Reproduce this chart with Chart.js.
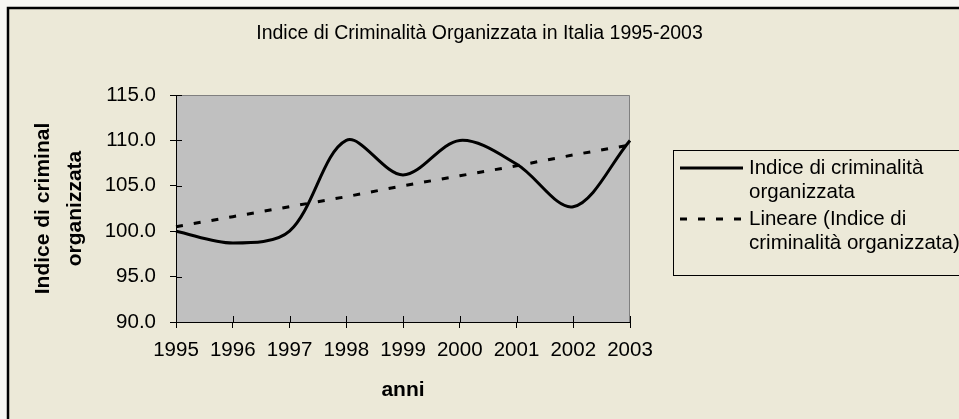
<!DOCTYPE html>
<html lang="it">
<head>
<meta charset="utf-8">
<title>Indice di Criminalità Organizzata in Italia 1995-2003</title>
<script src="https://cdn.jsdelivr.net/npm/chart.js@4.4.1/dist/chart.umd.min.js"></script>
<style>
  html, body { margin: 0; padding: 0; background: #f7f6f2; }
  #wrap { width: 959px; height: 419px; }
</style>
</head>
<body>
<div id="wrap"><canvas id="grafico" width="959" height="419"></canvas></div>
<script>
// Dati
const anni = ['1995', '1996', '1997', '1998', '1999', '2000', '2001', '2002', '2003'];
const indice = [100.0, 98.7, 100.0, 110.0, 106.2, 110.0, 107.4, 102.7, 110.0];
const tendenzaLineare = [100.5, 101.6, 102.7, 103.8, 105.0, 106.1, 107.2, 108.4, 109.5];
const tickY = [90, 95, 100, 105, 110, 115];

const titolo = 'Indice di Criminalità Organizzata in Italia 1995-2003';
const titoloAsseY = ['Indice di criminal', 'organizzata'];
const titoloAsseX = 'anni';
const etichetteLegenda = [
    ['Indice di criminalità', 'organizzata'],
    ['Lineare (Indice di', 'criminalità organizzata)']
];

const FONT = "'Liberation Sans', Arial, sans-serif";

// Sfondo stile Excel, area del grafico grigia, tacche incrociate e legenda
const stileExcel = {
    id: 'stileExcel',
    beforeDraw(chart) {
        const { ctx, chartArea: a } = chart;
        ctx.save();
        ctx.fillStyle = '#f7f6f2';
        ctx.fillRect(0, 0, chart.width, chart.height);
        ctx.fillStyle = '#ece9d8';
        ctx.fillRect(8, 8, chart.width, chart.height);
        ctx.fillStyle = '#c0c0c0';
        ctx.fillRect(a.left, a.top, a.right - a.left, a.bottom - a.top);
        ctx.strokeStyle = '#808080';
        ctx.lineWidth = 1;
        ctx.beginPath();
        ctx.moveTo(a.left, a.top + 0.5);
        ctx.lineTo(a.right - 0.5, a.top + 0.5);
        ctx.lineTo(a.right - 0.5, a.bottom);
        ctx.stroke();
        ctx.restore();
    },
    afterDraw(chart) {
        const { ctx, chartArea: a, scales: { x, y } } = chart;
        ctx.save();

        // parte interna delle tacche (incrociate sugli assi)
        ctx.strokeStyle = '#000';
        ctx.lineWidth = 1;
        ctx.beginPath();
        y.ticks.forEach((t, i) => {
            const py = Math.round(y.getPixelForTick(i)) + 0.5;
            ctx.moveTo(a.left, py);
            ctx.lineTo(a.left + 6, py);
        });
        x.ticks.forEach((t, i) => {
            const px = Math.round(x.getPixelForTick(i)) + 0.5;
            ctx.moveTo(px, a.bottom);
            ctx.lineTo(px, a.bottom - 6);
        });
        ctx.stroke();

        // legenda
        const lx = 673, ly = 150;
        ctx.fillStyle = '#ece9d8';
        ctx.fillRect(lx, ly, chart.width, 125);
        ctx.strokeStyle = '#000';
        ctx.lineWidth = 1;
        ctx.strokeRect(lx + 0.5, ly + 0.5, chart.width, 125);

        ctx.font = '20.5px ' + FONT;
        ctx.textBaseline = 'middle';
        ctx.textAlign = 'left';
        chart.data.datasets.forEach((ds, i) => {
            const yy = ly + 18 + i * 51;
            ctx.strokeStyle = ds.borderColor;
            ctx.lineWidth = ds.borderWidth;
            ctx.setLineDash(ds.borderDash || []);
            ctx.beginPath();
            ctx.moveTo(680, yy);
            ctx.lineTo(743, yy);
            ctx.stroke();
            ctx.setLineDash([]);
            ctx.fillStyle = '#000';
            etichetteLegenda[i].forEach((riga, k) => {
                ctx.fillText(riga, 749, yy + k * 24.5);
            });
        });

        // bordo esterno
        ctx.strokeStyle = '#000';
        ctx.lineWidth = 2.5;
        ctx.strokeRect(8, 8, chart.width + 20, chart.height + 20);
        ctx.restore();
    }
};

new Chart(document.getElementById('grafico'), {
    type: 'line',
    data: {
        labels: anni,
        datasets: [
            {
                label: etichetteLegenda[0].join(' '),
                data: indice,
                borderColor: '#000',
                borderWidth: 3,
                tension: 0.33,
                pointRadius: 0,
                fill: false
            },
            {
                label: etichetteLegenda[1].join(' '),
                data: tendenzaLineare,
                borderColor: '#000',
                borderWidth: 3,
                borderDash: [7, 11],
                tension: 0,
                pointRadius: 0,
                fill: false
            }
        ]
    },
    options: {
        responsive: false,
        animation: false,
        events: [],
        layout: { padding: 0 },
        plugins: {
            legend: { display: false },
            tooltip: { enabled: false },
            title: {
                display: true,
                text: titolo,
                color: '#000',
                font: { family: FONT, size: 19.5, weight: 'normal' },
                padding: { top: 22, bottom: 49.6 }
            }
        },
        scales: {
            x: {
                type: 'category',
                offset: false,
                afterFit: s => { s.height = 97; },
                grid: { display: true, drawOnChartArea: false, drawTicks: true, tickLength: 6, color: '#000', offset: false },
                border: { display: true, color: '#000', width: 1 },
                ticks: { color: '#000', font: { family: FONT, size: 20.5 }, padding: 10, autoSkip: false, maxRotation: 0 },
                title: {
                    display: true,
                    text: titoloAsseX,
                    color: '#000',
                    font: { family: FONT, size: 21, weight: 'bold' },
                    padding: { top: 0, bottom: 16.4 }
                }
            },
            y: {
                min: tickY[0],
                max: tickY[tickY.length - 1],
                afterFit: s => { s.width = 176; },
                afterBuildTicks: s => { s.ticks = tickY.map(v => ({ value: v })); },
                grid: { display: true, drawOnChartArea: false, drawTicks: true, tickLength: 6, color: '#000' },
                border: { display: true, color: '#000', width: 1 },
                ticks: {
                    color: '#000',
                    font: { family: FONT, size: 20.5 },
                    padding: 14,
                    callback: v => Number(v).toFixed(1)
                },
                title: {
                    display: true,
                    text: titoloAsseY,
                    color: '#000',
                    font: { family: FONT, size: 21, weight: 'bold', lineHeight: 32 / 21 },
                    padding: { top: 27, bottom: 0 }
                }
            },
            destra: {
                type: 'linear',
                position: 'right',
                display: true,
                afterFit: s => { s.width = 329; },
                grid: { display: false },
                border: { display: false },
                ticks: { display: false }
            }
        }
    },
    plugins: [stileExcel]
});
</script>
</body>
</html>
